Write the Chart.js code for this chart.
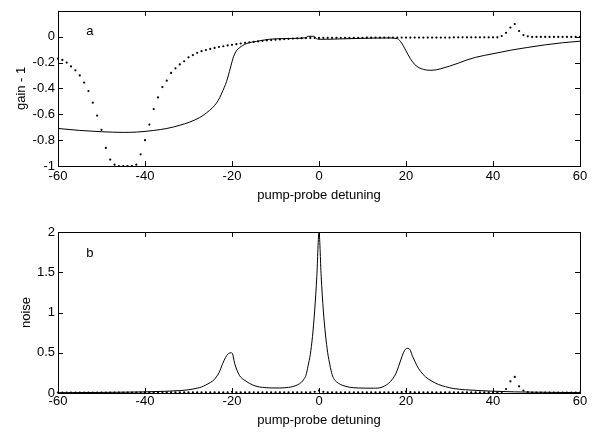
<!DOCTYPE html>
<html>
<head>
<meta charset="UTF-8">
<script src="https://cdn.jsdelivr.net/npm/chart.js"></script>
<style>
  body { margin: 0; background: #fff; }
  .plot { position: absolute; left: 0; }
</style>
</head>
<body>
<canvas id="graficoA" class="plot" width="603" height="217" style="top:0"></canvas>
<canvas id="graficoB" class="plot" width="603" height="217" style="top:217px"></canvas>

<script>
  // eixo x comum
  const xTicks = [-60, -40, -20, 0, 20, 40, 60];

  // pontos (detuning inteiro de -60 a 60)
  const dotX = [];
  for (let v = -60; v <= 60; v++) dotX.push(v);

  // (a) gain - 1, curva pontilhada
  const gainDots = [
    -0.17, -0.18, -0.2, -0.23, -0.26, -0.3, -0.355, -0.42, -0.51, -0.61,
    -0.72, -0.86, -0.95, -0.99, -1, -1, -1, -1, -0.99, -0.91,
    -0.8, -0.68, -0.56, -0.47, -0.39, -0.34, -0.28, -0.245, -0.215, -0.19,
    -0.16, -0.142, -0.125, -0.112, -0.103, -0.095, -0.087, -0.08, -0.074, -0.068,
    -0.063, -0.058, -0.053, -0.048, -0.044, -0.04, -0.036, -0.032, -0.029, -0.026,
    -0.023, -0.021, -0.019, -0.017, -0.015, -0.013, -0.012, -0.011, -0.01, -0.01,
    -0.01,
    -0.009, -0.009, -0.009, -0.009, -0.009, -0.009, -0.009, -0.009, -0.009, -0.009,
    -0.007, -0.007, -0.007, -0.007, -0.007, -0.007, -0.007, -0.007, -0.007, -0.007,
    -0.007, -0.007, -0.007, -0.007, -0.007, -0.007, -0.007, -0.007, -0.007, -0.007,
    -0.005, -0.005, -0.005, -0.005, -0.005, -0.005, -0.005, -0.005, -0.005, -0.005, -0.005,
    0.005, 0.03, 0.07, 0.098, 0.044, 0.012, 0.003,
    -0.002, -0.002, -0.002, -0.002, -0.002, -0.002, -0.002, -0.002, -0.002, -0.002, -0.002, -0.002
  ];

  // (a) gain - 1, curva continua
  const gainX = [-60, -55, -50, -45, -42, -38, -35, -32, -29.7, -27.4, -25.9, -24.5, -23.6, -22.8, -22.1,
    -21.5, -21, -20.6, -20.2, -19.8, -19.4, -18.9, -18.3, -17.5, -16.7, -15.5, -14.4, -11.4, -8, -5,
    -3, -2.5, -1.2, -0.6, 0, 2, 5, 10, 16, 18, 19, 20, 21, 22, 23, 24, 25.5, 27, 28, 30, 32, 34, 36, 38,
    40, 44, 48, 52, 56, 60];
  const gainY = [-0.71, -0.725, -0.735, -0.74, -0.738, -0.725, -0.71, -0.685, -0.66, -0.625, -0.59, -0.55, -0.515, -0.47, -0.417,
    -0.37, -0.32, -0.27, -0.22, -0.17, -0.135, -0.105, -0.086, -0.068, -0.054, -0.043, -0.037, -0.02, -0.015, -0.013,
    -0.008, 0.003, 0.003, -0.015, -0.02, -0.02, -0.017, -0.013, -0.01, -0.015, -0.05, -0.11, -0.17, -0.215, -0.24, -0.253, -0.26, -0.256, -0.248, -0.228, -0.205, -0.18, -0.16, -0.145,
    -0.132, -0.105, -0.083, -0.063, -0.047, -0.035];

  // (b) noise, curva pontilhada
  const noiseDots = [
    0.006, 0.006, 0.006, 0.006, 0.006, 0.006, 0.006, 0.006, 0.006, 0.006,
    0.006, 0.006, 0.006, 0.006, 0.006, 0.006, 0.006, 0.006, 0.006, 0.006,
    0.007, 0.007, 0.007, 0.007, 0.007, 0.007, 0.007, 0.007, 0.007, 0.007,
    0.007, 0.007, 0.007, 0.007, 0.007, 0.007, 0.007, 0.007, 0.007,
    0.009, 0.014, 0.009,
    0.008, 0.008, 0.008, 0.008, 0.008, 0.008, 0.008, 0.008, 0.008, 0.008,
    0.008, 0.008, 0.008, 0.008, 0.008, 0.008, 0.008,
    0.014, 0.03, 0.014,
    0.008, 0.008, 0.008, 0.008, 0.008, 0.008, 0.008, 0.008, 0.008, 0.008,
    0.008, 0.008, 0.008, 0.008, 0.008, 0.008, 0.008,
    0.01, 0.016, 0.01,
    0.007, 0.007, 0.007, 0.007, 0.007, 0.007, 0.007, 0.007, 0.007, 0.007,
    0.007, 0.007, 0.007, 0.007, 0.007, 0.007, 0.007, 0.007, 0.007, 0.007,
    0.012, 0.05, 0.145, 0.2, 0.083, 0.03, 0.012,
    0.006, 0.006, 0.006, 0.006, 0.006, 0.006, 0.006, 0.006, 0.006, 0.006, 0.006, 0.006
  ];

  // (b) noise, curva continua
  const noiseX = [-60, -50, -45, -40, -35, -32, -30, -28, -27, -26, -25, -24, -23.6, -23, -22.1, -21.5, -21, -20.2,
    -19.9, -19.4, -18.3, -17, -16, -14.5, -13, -11, -9, -7, -6, -5, -4, -3.5, -3, -2.5, -2, -1.5, -1, -0.5, 0,
    0.5, 1, 1.5, 2, 2.5, 3, 3.5, 4, 5, 6, 7, 9, 11, 13, 14, 15, 16, 17, 17.7, 18.3, 18.8, 19.4, 19.9, 20.3,
    20.9, 21.4, 21.9, 22.5, 23.4, 24.5, 26, 27.5, 29.1, 31, 33.7, 37, 40, 45, 50, 55, 60];
  const noiseY = [0.004, 0.007, 0.01, 0.014, 0.022, 0.03, 0.04, 0.06, 0.075, 0.1, 0.13, 0.17, 0.2, 0.25, 0.37, 0.44, 0.48, 0.5,
    0.49, 0.37, 0.22, 0.155, 0.12, 0.085, 0.07, 0.063, 0.062, 0.07, 0.08, 0.1, 0.135, 0.17, 0.22, 0.34, 0.48, 0.7, 1.02, 1.45, 2.0,
    1.45, 1.02, 0.72, 0.5, 0.35, 0.23, 0.17, 0.14, 0.105, 0.085, 0.072, 0.062, 0.06, 0.06, 0.065, 0.085, 0.12, 0.18, 0.245, 0.33, 0.41, 0.5, 0.545, 0.555,
    0.54, 0.47, 0.41, 0.34, 0.265, 0.2, 0.145, 0.105, 0.078, 0.055, 0.04, 0.03, 0.022, 0.014, 0.01, 0.007, 0.005];

  const fonte = { family: 'Arial, "Liberation Sans", sans-serif', size: 13 };

  function pares(xs, ys) {
    return xs.map((x, i) => ({ x: x, y: ys[i] }));
  }

  // caixa estilo matlab com ticks para dentro + letra do painel
  const caixaMatlab = {
    id: 'caixaMatlab',
    afterDraw(chart, args, opts) {
      const ctx = chart.ctx;
      const a = chart.chartArea;
      const sx = chart.scales.x, sy = chart.scales.y;
      ctx.save();
      ctx.strokeStyle = '#000';
      ctx.lineWidth = 1;
      ctx.strokeRect(Math.round(a.left) + 0.5, Math.round(a.top) + 0.5,
        Math.round(a.right - a.left), Math.round(a.bottom - a.top));
      ctx.beginPath();
      sx.ticks.forEach(t => {
        const px = Math.round(sx.getPixelForValue(t.value)) + 0.5;
        ctx.moveTo(px, a.bottom); ctx.lineTo(px, a.bottom - 5);
        ctx.moveTo(px, a.top); ctx.lineTo(px, a.top + 5);
      });
      sy.ticks.forEach(t => {
        const py = Math.round(sy.getPixelForValue(t.value)) + 0.5;
        ctx.moveTo(a.left, py); ctx.lineTo(a.left + 5, py);
        ctx.moveTo(a.right, py); ctx.lineTo(a.right - 5, py);
      });
      ctx.stroke();
      ctx.fillStyle = '#000';
      ctx.font = '13px Arial, "Liberation Sans", sans-serif';
      ctx.textAlign = 'center';
      ctx.textBaseline = 'middle';
      ctx.fillText(opts.letra, sx.getPixelForValue(opts.lx), sy.getPixelForValue(opts.ly));
      ctx.restore();
    }
  };

  function criarGrafico(id, cfg) {
    return new Chart(document.getElementById(id), {
      type: 'scatter',
      data: {
        datasets: [{
          data: pares(cfg.linhaX, cfg.linhaY),
          showLine: true,
          borderColor: '#000',
          borderWidth: 1,
          pointRadius: 0,
          cubicInterpolationMode: 'monotone',
          clip: false
        }, {
          data: pares(dotX, cfg.pontos),
          showLine: false,
          backgroundColor: '#000',
          borderWidth: 0,
          pointRadius: 1.1,
          clip: false
        }]
      },
      options: {
        responsive: false,
        animation: false,
        events: [],
        layout: { padding: { top: cfg.topo, right: 23, left: 0, bottom: 0 } },
        plugins: {
          legend: { display: false },
          tooltip: { enabled: false },
          caixaMatlab: { letra: cfg.letra, lx: -52.7, ly: cfg.letraY }
        },
        scales: {
          x: {
            type: 'linear', min: -60, max: 60,
            afterBuildTicks: s => { s.ticks = xTicks.map(v => ({ value: v })); },
            afterFit: s => { s.height = cfg.alturaX; },
            grid: { display: false, drawTicks: false, tickLength: 0 }, border: { display: false },
            ticks: { color: '#000', font: fonte, padding: cfg.padX, maxRotation: 0 },
            title: { display: true, text: 'pump-probe detuning', color: '#000', font: fonte,
              padding: { top: 0, bottom: cfg.tituloX } }
          },
          y: {
            min: cfg.ymin, max: cfg.ymax,
            afterBuildTicks: s => { s.ticks = cfg.yTicks.map(v => ({ value: v })); },
            afterFit: s => { s.width = 58; },
            grid: { display: false, drawTicks: false, tickLength: 0 }, border: { display: false },
            ticks: { color: '#000', font: fonte, padding: 3,
              callback: v => cfg.yRotulo(v) },
            title: { display: true, text: cfg.tituloY, color: '#000', font: fonte,
              padding: { top: cfg.tituloYpad, bottom: 0 } }
          }
        }
      },
      plugins: [caixaMatlab]
    });
  }

  criarGrafico('graficoA', {
    linhaX: gainX, linhaY: gainY, pontos: gainDots,
    ymin: -1, ymax: 0.2, yTicks: [-1, -0.8, -0.6, -0.4, -0.2, 0, 0.2],
    yRotulo: v => v > 0.1 ? '' : String(Math.round(v * 10) / 10),
    topo: 3, alturaX: 51, padX: 3, tituloX: 14,
    tituloY: 'gain - 1', tituloYpad: 14,
    letra: 'a', letraY: 0.037
  });

  criarGrafico('graficoB', {
    linhaX: noiseX, linhaY: noiseY, pontos: noiseDots,
    ymin: 0, ymax: 2, yTicks: [0, 0.5, 1, 1.5, 2],
    yRotulo: v => String(v),
    topo: 15, alturaX: 41, padX: 1, tituloX: 6,
    tituloY: 'noise', tituloYpad: 19,
    letra: 'b', letraY: 1.73
  });
</script>
</body>
</html>
